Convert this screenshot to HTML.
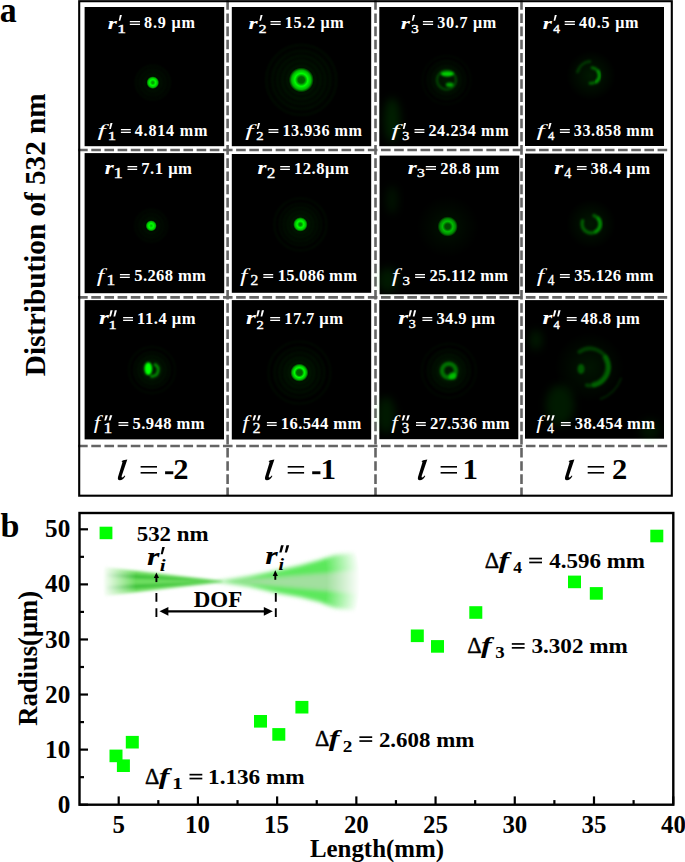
<!DOCTYPE html>
<html><head><meta charset="utf-8"><style>
html,body{margin:0;padding:0;background:#fff;width:685px;height:862px;overflow:hidden}
svg{display:block}
text{font-family:"Liberation Serif",serif}
</style></head><body>
<svg width="685" height="862" viewBox="0 0 685 862" font-family="Liberation Serif"><defs><filter id="sb" x="-50%" y="-50%" width="200%" height="200%"><feGaussianBlur stdDeviation="1.1"/></filter><radialGradient id="d1" cx="152.8" cy="82.6" r="6.37" gradientUnits="userSpaceOnUse"><stop offset="0" stop-color="#00ff00" stop-opacity="0.60"/><stop offset="0.141" stop-color="#00ff00" stop-opacity="0.60"/><stop offset="0.456" stop-color="#00ff00" stop-opacity="1.00"/><stop offset="0.77" stop-color="#00ff00" stop-opacity="0.70"/><stop offset="1" stop-color="#00ff00" stop-opacity="0"/></radialGradient><radialGradient id="h1" cx="152.8" cy="82.6" r="19.60" gradientUnits="userSpaceOnUse"><stop offset="0" stop-color="#00ff00" stop-opacity="0.060"/><stop offset="0.6" stop-color="#00ff00" stop-opacity="0.020"/><stop offset="1" stop-color="#00ff00" stop-opacity="0"/></radialGradient><radialGradient id="d3" cx="301.3" cy="79.9" r="12.48" gradientUnits="userSpaceOnUse"><stop offset="0" stop-color="#00ff00" stop-opacity="0.30"/><stop offset="0.257" stop-color="#00ff00" stop-opacity="0.35"/><stop offset="0.513" stop-color="#00ff00" stop-opacity="1.00"/><stop offset="0.77" stop-color="#00ff00" stop-opacity="0.70"/><stop offset="1" stop-color="#00ff00" stop-opacity="0"/></radialGradient><radialGradient id="h3" cx="301.3" cy="79.9" r="38.40" gradientUnits="userSpaceOnUse"><stop offset="0" stop-color="#00ff00" stop-opacity="0.075"/><stop offset="0.6" stop-color="#00ff00" stop-opacity="0.025"/><stop offset="1" stop-color="#00ff00" stop-opacity="0"/></radialGradient><radialGradient id="g5" cx="446.5" cy="80" r="22" gradientUnits="userSpaceOnUse"><stop offset="0" stop-color="#00ff00" stop-opacity="0.100"/><stop offset="1" stop-color="#00ff00" stop-opacity="0"/></radialGradient><radialGradient id="g6" cx="591" cy="75.5" r="25" gradientUnits="userSpaceOnUse"><stop offset="0" stop-color="#00ff00" stop-opacity="0.100"/><stop offset="1" stop-color="#00ff00" stop-opacity="0"/></radialGradient><radialGradient id="d7" cx="151.2" cy="225.8" r="5.59" gradientUnits="userSpaceOnUse"><stop offset="0" stop-color="#00ff00" stop-opacity="0.75"/><stop offset="0.072" stop-color="#00ff00" stop-opacity="0.75"/><stop offset="0.421" stop-color="#00ff00" stop-opacity="1.00"/><stop offset="0.77" stop-color="#00ff00" stop-opacity="0.70"/><stop offset="1" stop-color="#00ff00" stop-opacity="0"/></radialGradient><radialGradient id="h7" cx="151.2" cy="225.8" r="17.20" gradientUnits="userSpaceOnUse"><stop offset="0" stop-color="#00ff00" stop-opacity="0.060"/><stop offset="0.6" stop-color="#00ff00" stop-opacity="0.020"/><stop offset="1" stop-color="#00ff00" stop-opacity="0"/></radialGradient><radialGradient id="d9" cx="300.4" cy="224.4" r="7.28" gradientUnits="userSpaceOnUse"><stop offset="0" stop-color="#00ff00" stop-opacity="0.50"/><stop offset="0.151" stop-color="#00ff00" stop-opacity="0.50"/><stop offset="0.461" stop-color="#00ff00" stop-opacity="1.00"/><stop offset="0.77" stop-color="#00ff00" stop-opacity="0.70"/><stop offset="1" stop-color="#00ff00" stop-opacity="0"/></radialGradient><radialGradient id="h9" cx="300.4" cy="224.4" r="22.40" gradientUnits="userSpaceOnUse"><stop offset="0" stop-color="#00ff00" stop-opacity="0.090"/><stop offset="0.6" stop-color="#00ff00" stop-opacity="0.030"/><stop offset="1" stop-color="#00ff00" stop-opacity="0"/></radialGradient><radialGradient id="d11" cx="447.7" cy="226.5" r="10.14" gradientUnits="userSpaceOnUse"><stop offset="0" stop-color="#00ff00" stop-opacity="0.22"/><stop offset="0.257" stop-color="#00ff00" stop-opacity="0.25"/><stop offset="0.513" stop-color="#00ff00" stop-opacity="0.72"/><stop offset="0.77" stop-color="#00ff00" stop-opacity="0.50"/><stop offset="1" stop-color="#00ff00" stop-opacity="0"/></radialGradient><radialGradient id="h11" cx="447.7" cy="226.5" r="31.20" gradientUnits="userSpaceOnUse"><stop offset="0" stop-color="#00ff00" stop-opacity="0.075"/><stop offset="0.6" stop-color="#00ff00" stop-opacity="0.025"/><stop offset="1" stop-color="#00ff00" stop-opacity="0"/></radialGradient><radialGradient id="g13" cx="591" cy="224" r="25" gradientUnits="userSpaceOnUse"><stop offset="0" stop-color="#00ff00" stop-opacity="0.090"/><stop offset="1" stop-color="#00ff00" stop-opacity="0"/></radialGradient><radialGradient id="g14" cx="152" cy="370" r="20" gradientUnits="userSpaceOnUse"><stop offset="0" stop-color="#00ff00" stop-opacity="0.100"/><stop offset="1" stop-color="#00ff00" stop-opacity="0"/></radialGradient><radialGradient id="d15" cx="299.4" cy="372.6" r="9.10" gradientUnits="userSpaceOnUse"><stop offset="0" stop-color="#00ff00" stop-opacity="0.30"/><stop offset="0.308" stop-color="#00ff00" stop-opacity="0.35"/><stop offset="0.539" stop-color="#00ff00" stop-opacity="1.00"/><stop offset="0.77" stop-color="#00ff00" stop-opacity="0.70"/><stop offset="1" stop-color="#00ff00" stop-opacity="0"/></radialGradient><radialGradient id="h15" cx="299.4" cy="372.6" r="28.00" gradientUnits="userSpaceOnUse"><stop offset="0" stop-color="#00ff00" stop-opacity="0.090"/><stop offset="0.6" stop-color="#00ff00" stop-opacity="0.030"/><stop offset="1" stop-color="#00ff00" stop-opacity="0"/></radialGradient><radialGradient id="g17" cx="448.9" cy="370.7" r="24" gradientUnits="userSpaceOnUse"><stop offset="0" stop-color="#00ff00" stop-opacity="0.100"/><stop offset="1" stop-color="#00ff00" stop-opacity="0"/></radialGradient><radialGradient id="g18" cx="589.4" cy="367.2" r="35" gradientUnits="userSpaceOnUse"><stop offset="0" stop-color="#00ff00" stop-opacity="0.080"/><stop offset="1" stop-color="#00ff00" stop-opacity="0"/></radialGradient><filter id="bigb" x="-50%" y="-50%" width="200%" height="200%"><feGaussianBlur stdDeviation="4"/></filter><filter id="blur2" x="-20%" y="-50%" width="140%" height="200%"><feGaussianBlur stdDeviation="1.5"/></filter><filter id="blur3" x="-20%" y="-50%" width="140%" height="200%"><feGaussianBlur stdDeviation="2.2"/></filter><radialGradient id="lmg" cx="223" cy="581.4" r="121" gradientUnits="userSpaceOnUse"><stop offset="0" stop-color="#fff" stop-opacity="1"/><stop offset="0.72" stop-color="#fff" stop-opacity="1"/><stop offset="1" stop-color="#fff" stop-opacity="0"/></radialGradient><mask id="lmask" maskUnits="userSpaceOnUse" x="90" y="540" width="150" height="80"><rect x="90" y="540" width="150" height="80" fill="url(#lmg)"/></mask><radialGradient id="rmg" cx="222" cy="581.4" r="138" gradientUnits="userSpaceOnUse"><stop offset="0" stop-color="#fff" stop-opacity="1"/><stop offset="0.76" stop-color="#fff" stop-opacity="1"/><stop offset="1" stop-color="#fff" stop-opacity="0"/></radialGradient><mask id="rmask" maskUnits="userSpaceOnUse" x="210" y="530" width="170" height="100"><rect x="210" y="530" width="170" height="100" fill="url(#rmg)"/></mask></defs><rect x="84.6" y="7.0" width="139.6" height="139.2" fill="#000"/>
<rect x="231.8" y="7.0" width="139.4" height="139.2" fill="#000"/>
<rect x="379.3" y="7.0" width="139.0" height="139.2" fill="#000"/>
<rect x="525.0" y="7.0" width="139.0" height="139.0" fill="#000"/>
<rect x="84.6" y="153.1" width="139.6" height="140.1" fill="#000"/>
<rect x="231.8" y="154.0" width="139.4" height="138.8" fill="#000"/>
<rect x="379.6" y="155.6" width="139.7" height="138.7" fill="#000"/>
<rect x="525.0" y="153.6" width="139.0" height="139.2" fill="#000"/>
<rect x="84.6" y="300.1" width="139.4" height="139.3" fill="#000"/>
<rect x="231.8" y="300.1" width="139.4" height="139.4" fill="#000"/>
<rect x="379.3" y="300.1" width="139.0" height="139.1" fill="#000"/>
<rect x="525.0" y="300.1" width="139.0" height="138.6" fill="#000"/>
<line x1="78.1" y1="150.0" x2="667.2" y2="150.0" stroke="#646464" stroke-width="2.6" stroke-dasharray="9.6 3.57"/>
<line x1="78.1" y1="297.4" x2="667.2" y2="297.4" stroke="#646464" stroke-width="2.6" stroke-dasharray="9.6 3.57"/>
<line x1="78.1" y1="446.0" x2="667.2" y2="446.0" stroke="#646464" stroke-width="2.6" stroke-dasharray="9.6 3.57"/>
<line x1="227.6" y1="0.24" x2="227.6" y2="495" stroke="#646464" stroke-width="2.6" stroke-dasharray="9.6 3.57"/>
<line x1="375.5" y1="0.24" x2="375.5" y2="495" stroke="#646464" stroke-width="2.6" stroke-dasharray="9.6 3.57"/>
<line x1="521.5" y1="0.24" x2="521.5" y2="495" stroke="#646464" stroke-width="2.6" stroke-dasharray="9.6 3.57"/>
<rect x="79.2" y="1.2" width="592.6" height="494.5" fill="none" stroke="#000" stroke-width="2.1"/>
<circle cx="152.8" cy="82.6" r="19.60" fill="url(#h1)"/>
<circle cx="152.8" cy="82.6" r="6.37" fill="url(#d1)"/>
<circle cx="301.3" cy="79.9" r="38.40" fill="url(#h3)"/>
<circle cx="301.3" cy="79.9" r="12.48" fill="url(#d3)"/>
<circle cx="446.5" cy="80" r="22" fill="url(#g5)"/>
<ellipse cx="447.3" cy="73.8" rx="6.5" ry="2.6" fill="#00ff00" fill-opacity="0.8" filter="url(#sb)"/>
<ellipse cx="449.7" cy="84.7" rx="3.8" ry="2.2" fill="#00ff00" fill-opacity="0.6" filter="url(#sb)"/>
<circle cx="446.5" cy="80" r="9.5" fill="none" stroke="#00ff00" stroke-width="2.5" stroke-opacity="0.22" filter="url(#sb)"/>
<circle cx="591" cy="75.5" r="25" fill="url(#g6)"/>
<path d="M592.18,67.73 A7.8,7.8 0 1 1 590.15,83.18" fill="none" stroke="#00ff00" stroke-width="3.0" stroke-opacity="0.35" stroke-linecap="round" filter="url(#sb)"/>
<path d="M598.43,71.50 A8.0,8.0 0 0 1 596.64,81.63" fill="none" stroke="#00ff00" stroke-width="3.5" stroke-opacity="0.3" stroke-linecap="round" filter="url(#sb)"/>
<path d="M577.48,71.88 A14,14 0 0 1 589.78,61.55" fill="none" stroke="#00ff00" stroke-width="3" stroke-opacity="0.18" stroke-linecap="round" filter="url(#sb)"/>
<circle cx="151.2" cy="225.8" r="17.20" fill="url(#h7)"/>
<circle cx="151.2" cy="225.8" r="5.59" fill="url(#d7)"/>
<circle cx="300.4" cy="224.4" r="22.40" fill="url(#h9)"/>
<circle cx="300.4" cy="224.4" r="7.28" fill="url(#d9)"/>
<circle cx="447.7" cy="226.5" r="31.20" fill="url(#h11)"/>
<circle cx="447.7" cy="226.5" r="10.14" fill="url(#d11)"/>
<circle cx="591" cy="224" r="25" fill="url(#g13)"/>
<path d="M594.08,215.54 A9,9 0 1 1 582.54,220.92" fill="none" stroke="#00ff00" stroke-width="3.5" stroke-opacity="0.32" stroke-linecap="round" filter="url(#sb)"/>
<path d="M598.39,218.21 A9,9 0 0 1 596.00,231.79" fill="none" stroke="#00ff00" stroke-width="3.5" stroke-opacity="0.3" stroke-linecap="round" filter="url(#sb)"/>
<circle cx="152" cy="370" r="20" fill="url(#g14)"/>
<ellipse cx="148.3" cy="368.6" rx="3.9" ry="6.4" fill="#00ff00" fill-opacity="1.0" filter="url(#sb)"/>
<path d="M155.10,364.63 A6.2,6.2 0 0 1 151.46,376.18" fill="none" stroke="#00ff00" stroke-width="3" stroke-opacity="0.5" stroke-linecap="round" filter="url(#sb)"/>
<circle cx="299.4" cy="372.6" r="28.00" fill="url(#h15)"/>
<circle cx="299.4" cy="372.6" r="9.10" fill="url(#d15)"/>
<circle cx="448.9" cy="370.7" r="24" fill="url(#g17)"/>
<circle cx="448.9" cy="370.7" r="7" fill="none" stroke="#00ff00" stroke-width="4.5" stroke-opacity="0.4" filter="url(#sb)"/>
<ellipse cx="452.5" cy="376" rx="4" ry="3.5" fill="#00ff00" fill-opacity="0.55" filter="url(#sb)"/>
<circle cx="589.4" cy="367.2" r="35" fill="url(#g18)"/>
<path d="M579.39,351.85 A18.5,18.5 0 1 1 586.79,385.22" fill="none" stroke="#00ff00" stroke-width="4" stroke-opacity="0.2" stroke-linecap="round" filter="url(#sb)"/>
<path d="M605.59,358.00 A18,18 0 0 1 594.66,384.39" fill="none" stroke="#00ff00" stroke-width="6" stroke-opacity="0.2" stroke-linecap="round" filter="url(#sb)"/>
<ellipse cx="581" cy="369" rx="3.5" ry="5" fill="#00ff00" fill-opacity="0.3" filter="url(#sb)"/>
<path d="M620.95,378.63 A34,34 0 0 1 600.63,398.95" fill="none" stroke="#00ff00" stroke-width="2" stroke-opacity="0.12" stroke-linecap="round" filter="url(#sb)"/>
<circle cx="301.3" cy="79.9" r="14" fill="none" stroke="#00ff00" stroke-width="1.4" stroke-opacity="0.060" filter="url(#sb)"/>
<circle cx="301.3" cy="79.9" r="19" fill="none" stroke="#00ff00" stroke-width="1.4" stroke-opacity="0.060" filter="url(#sb)"/>
<circle cx="301.3" cy="79.9" r="24" fill="none" stroke="#00ff00" stroke-width="1.4" stroke-opacity="0.060" filter="url(#sb)"/>
<circle cx="301.3" cy="79.9" r="29" fill="none" stroke="#00ff00" stroke-width="1.4" stroke-opacity="0.060" filter="url(#sb)"/>
<circle cx="301.3" cy="79.9" r="35" fill="none" stroke="#00ff00" stroke-width="1.4" stroke-opacity="0.060" filter="url(#sb)"/>
<circle cx="300.4" cy="224.4" r="9" fill="none" stroke="#00ff00" stroke-width="1.4" stroke-opacity="0.060" filter="url(#sb)"/>
<circle cx="300.4" cy="224.4" r="13" fill="none" stroke="#00ff00" stroke-width="1.4" stroke-opacity="0.060" filter="url(#sb)"/>
<circle cx="300.4" cy="224.4" r="17" fill="none" stroke="#00ff00" stroke-width="1.4" stroke-opacity="0.060" filter="url(#sb)"/>
<circle cx="300.4" cy="224.4" r="21" fill="none" stroke="#00ff00" stroke-width="1.4" stroke-opacity="0.060" filter="url(#sb)"/>
<circle cx="300.4" cy="224.4" r="26" fill="none" stroke="#00ff00" stroke-width="1.4" stroke-opacity="0.060" filter="url(#sb)"/>
<circle cx="299.4" cy="372.6" r="11" fill="none" stroke="#00ff00" stroke-width="1.4" stroke-opacity="0.054" filter="url(#sb)"/>
<circle cx="299.4" cy="372.6" r="15" fill="none" stroke="#00ff00" stroke-width="1.4" stroke-opacity="0.054" filter="url(#sb)"/>
<circle cx="299.4" cy="372.6" r="20" fill="none" stroke="#00ff00" stroke-width="1.4" stroke-opacity="0.054" filter="url(#sb)"/>
<circle cx="299.4" cy="372.6" r="25" fill="none" stroke="#00ff00" stroke-width="1.4" stroke-opacity="0.054" filter="url(#sb)"/>
<circle cx="299.4" cy="372.6" r="31" fill="none" stroke="#00ff00" stroke-width="1.4" stroke-opacity="0.054" filter="url(#sb)"/>
<circle cx="152.8" cy="82.6" r="9" fill="none" stroke="#00ff00" stroke-width="1.4" stroke-opacity="0.048" filter="url(#sb)"/>
<circle cx="152.8" cy="82.6" r="13" fill="none" stroke="#00ff00" stroke-width="1.4" stroke-opacity="0.048" filter="url(#sb)"/>
<circle cx="152.8" cy="82.6" r="17" fill="none" stroke="#00ff00" stroke-width="1.4" stroke-opacity="0.048" filter="url(#sb)"/>
<circle cx="151.2" cy="225.8" r="8" fill="none" stroke="#00ff00" stroke-width="1.4" stroke-opacity="0.042" filter="url(#sb)"/>
<circle cx="151.2" cy="225.8" r="12" fill="none" stroke="#00ff00" stroke-width="1.4" stroke-opacity="0.042" filter="url(#sb)"/>
<circle cx="151.2" cy="225.8" r="16" fill="none" stroke="#00ff00" stroke-width="1.4" stroke-opacity="0.042" filter="url(#sb)"/>
<circle cx="152" cy="370" r="10" fill="none" stroke="#00ff00" stroke-width="1.4" stroke-opacity="0.048" filter="url(#sb)"/>
<circle cx="152" cy="370" r="14" fill="none" stroke="#00ff00" stroke-width="1.4" stroke-opacity="0.048" filter="url(#sb)"/>
<circle cx="152" cy="370" r="18" fill="none" stroke="#00ff00" stroke-width="1.4" stroke-opacity="0.048" filter="url(#sb)"/>
<circle cx="152" cy="370" r="23" fill="none" stroke="#00ff00" stroke-width="1.4" stroke-opacity="0.048" filter="url(#sb)"/>
<circle cx="446.5" cy="80" r="14" fill="none" stroke="#00ff00" stroke-width="1.4" stroke-opacity="0.036" filter="url(#sb)"/>
<circle cx="446.5" cy="80" r="19" fill="none" stroke="#00ff00" stroke-width="1.4" stroke-opacity="0.036" filter="url(#sb)"/>
<circle cx="446.5" cy="80" r="24" fill="none" stroke="#00ff00" stroke-width="1.4" stroke-opacity="0.036" filter="url(#sb)"/>
<circle cx="448.9" cy="370.7" r="12" fill="none" stroke="#00ff00" stroke-width="1.4" stroke-opacity="0.042" filter="url(#sb)"/>
<circle cx="448.9" cy="370.7" r="16" fill="none" stroke="#00ff00" stroke-width="1.4" stroke-opacity="0.042" filter="url(#sb)"/>
<circle cx="448.9" cy="370.7" r="21" fill="none" stroke="#00ff00" stroke-width="1.4" stroke-opacity="0.042" filter="url(#sb)"/>
<circle cx="448.9" cy="370.7" r="27" fill="none" stroke="#00ff00" stroke-width="1.4" stroke-opacity="0.042" filter="url(#sb)"/>
<ellipse cx="392" cy="120" rx="8" ry="22" fill="#00ff00" fill-opacity="0.12" filter="url(#bigb)"/>
<ellipse cx="388" cy="280" rx="10" ry="12" fill="#00ff00" fill-opacity="0.1" filter="url(#bigb)"/>
<ellipse cx="392" cy="200" rx="6" ry="14" fill="#00ff00" fill-opacity="0.07" filter="url(#bigb)"/>
<ellipse cx="386" cy="415" rx="9" ry="18" fill="#00ff00" fill-opacity="0.1" filter="url(#bigb)"/>
<ellipse cx="560" cy="405" rx="14" ry="20" fill="#00ff00" fill-opacity="0.1" filter="url(#bigb)"/>
<ellipse cx="650" cy="430" rx="10" ry="10" fill="#00ff00" fill-opacity="0.08" filter="url(#bigb)"/>
<ellipse cx="536" cy="340" rx="6" ry="10" fill="#00ff00" fill-opacity="0.1" filter="url(#bigb)"/>
<text transform="translate(107.73,28.60) scale(1.4140,1)" font-size="16.60" font-weight="bold" font-style="italic" fill="#fff">r</text>
<polygon points="119.92,14.900000000000002 121.90,14.900000000000002 120.30,20.8 118.70,20.8" fill="#fff"/>
<text transform="translate(117.22,32.70) scale(1.4591,1)" font-size="11.97" font-weight="normal" font-style="normal" fill="#fff" stroke="#fff" stroke-width="0.4">1</text>
<rect x="129.80" y="21.00" width="10.20" height="1.30" fill="#fff"/>
<rect x="129.80" y="23.70" width="10.20" height="1.30" fill="#fff"/>
<text x="144.10" y="28.44" font-size="16.15" font-weight="bold" font-style="normal" fill="#fff" letter-spacing="0.819">8.9 μm</text>
<text transform="translate(97.61,136.39) scale(1.8002,1)" font-size="16.30" font-weight="normal" font-style="italic" fill="#fff">f</text>
<polygon points="110.45,123.10000000000001 112.50,123.10000000000001 110.85,129.0 109.20,129.0" fill="#fff"/>
<text transform="translate(107.79,140.30) scale(1.3058,1)" font-size="12.73" font-weight="normal" font-style="normal" fill="#fff" stroke="#fff" stroke-width="0.4">1</text>
<rect x="120.90" y="129.00" width="9.90" height="1.30" fill="#fff"/>
<rect x="120.90" y="131.70" width="9.90" height="1.30" fill="#fff"/>
<text x="134.80" y="136.14" font-size="16.15" font-weight="bold" font-style="normal" fill="#fff" letter-spacing="0.755">4.814 mm</text>
<text transform="translate(248.43,28.60) scale(1.4140,1)" font-size="16.60" font-weight="bold" font-style="italic" fill="#fff">r</text>
<polygon points="260.62,14.900000000000002 262.60,14.900000000000002 261.00,20.8 259.40,20.8" fill="#fff"/>
<text transform="translate(258.70,32.70) scale(1.2949,1)" font-size="11.97" font-weight="normal" font-style="normal" fill="#fff" stroke="#fff" stroke-width="0.4">2</text>
<rect x="270.50" y="21.00" width="10.20" height="1.30" fill="#fff"/>
<rect x="270.50" y="23.70" width="10.20" height="1.30" fill="#fff"/>
<text x="284.80" y="28.44" font-size="16.15" font-weight="bold" font-style="normal" fill="#fff" letter-spacing="0.670">15.2 μm</text>
<text transform="translate(245.21,136.39) scale(1.8002,1)" font-size="16.30" font-weight="normal" font-style="italic" fill="#fff">f</text>
<polygon points="258.05,123.10000000000001 260.10,123.10000000000001 258.45,129.0 256.80,129.0" fill="#fff"/>
<text transform="translate(256.14,140.30) scale(1.1589,1)" font-size="12.73" font-weight="normal" font-style="normal" fill="#fff" stroke="#fff" stroke-width="0.4">2</text>
<rect x="268.50" y="129.00" width="9.90" height="1.30" fill="#fff"/>
<rect x="268.50" y="131.70" width="9.90" height="1.30" fill="#fff"/>
<text x="282.40" y="136.14" font-size="16.15" font-weight="bold" font-style="normal" fill="#fff" letter-spacing="0.539">13.936 mm</text>
<text transform="translate(400.83,28.60) scale(1.4140,1)" font-size="16.60" font-weight="bold" font-style="italic" fill="#fff">r</text>
<polygon points="413.02,14.900000000000002 415.00,14.900000000000002 413.40,20.8 411.80,20.8" fill="#fff"/>
<text transform="translate(411.13,32.58) scale(1.2670,1)" font-size="11.79" font-weight="normal" font-style="normal" fill="#fff" stroke="#fff" stroke-width="0.4">3</text>
<rect x="422.90" y="21.00" width="10.20" height="1.30" fill="#fff"/>
<rect x="422.90" y="23.70" width="10.20" height="1.30" fill="#fff"/>
<text x="437.20" y="28.44" font-size="16.15" font-weight="bold" font-style="normal" fill="#fff" letter-spacing="0.703">30.7 μm</text>
<text transform="translate(391.21,136.39) scale(1.8002,1)" font-size="16.30" font-weight="normal" font-style="italic" fill="#fff">f</text>
<polygon points="404.05,123.10000000000001 406.10,123.10000000000001 404.45,129.0 402.80,129.0" fill="#fff"/>
<text transform="translate(402.16,140.17) scale(1.1340,1)" font-size="12.54" font-weight="normal" font-style="normal" fill="#fff" stroke="#fff" stroke-width="0.4">3</text>
<rect x="414.50" y="129.00" width="9.90" height="1.30" fill="#fff"/>
<rect x="414.50" y="131.70" width="9.90" height="1.30" fill="#fff"/>
<text x="428.40" y="136.14" font-size="16.15" font-weight="bold" font-style="normal" fill="#fff" letter-spacing="0.614">24.234 mm</text>
<text transform="translate(542.63,28.60) scale(1.4140,1)" font-size="16.60" font-weight="bold" font-style="italic" fill="#fff">r</text>
<polygon points="554.82,14.900000000000002 556.80,14.900000000000002 555.20,20.8 553.60,20.8" fill="#fff"/>
<text transform="translate(553.33,32.70) scale(1.1139,1)" font-size="11.97" font-weight="normal" font-style="normal" fill="#fff" stroke="#fff" stroke-width="0.4">4</text>
<rect x="564.70" y="21.00" width="10.20" height="1.30" fill="#fff"/>
<rect x="564.70" y="23.70" width="10.20" height="1.30" fill="#fff"/>
<text x="579.00" y="28.44" font-size="16.15" font-weight="bold" font-style="normal" fill="#fff" letter-spacing="0.770">40.5 μm</text>
<text transform="translate(536.61,136.39) scale(1.8002,1)" font-size="16.30" font-weight="normal" font-style="italic" fill="#fff">f</text>
<polygon points="549.45,123.10000000000001 551.50,123.10000000000001 549.85,129.0 548.20,129.0" fill="#fff"/>
<text transform="translate(547.95,140.30) scale(0.9969,1)" font-size="12.73" font-weight="normal" font-style="normal" fill="#fff" stroke="#fff" stroke-width="0.4">4</text>
<rect x="559.90" y="129.00" width="9.90" height="1.30" fill="#fff"/>
<rect x="559.90" y="131.70" width="9.90" height="1.30" fill="#fff"/>
<text x="573.80" y="136.14" font-size="16.15" font-weight="bold" font-style="normal" fill="#fff" letter-spacing="0.564">33.858 mm</text>
<text transform="translate(104.84,174.30) scale(1.2116,1)" font-size="19.15" font-weight="bold" font-style="italic" fill="#fff">r</text>
<text transform="translate(113.52,177.70) scale(1.3634,1)" font-size="13.64" font-weight="normal" font-style="normal" fill="#fff" stroke="#fff" stroke-width="0.4">1</text>
<rect x="127.50" y="166.00" width="9.70" height="1.30" fill="#fff"/>
<rect x="127.50" y="168.70" width="9.70" height="1.30" fill="#fff"/>
<text x="141.20" y="174.13" font-size="16.59" font-weight="bold" font-style="normal" fill="#fff" letter-spacing="0.523">7.1 μm</text>
<text transform="translate(96.64,281.74) scale(1.4772,1)" font-size="17.93" font-weight="normal" font-style="italic" fill="#fff">f</text>
<text transform="translate(106.42,285.40) scale(1.2808,1)" font-size="13.64" font-weight="normal" font-style="normal" fill="#fff" stroke="#fff" stroke-width="0.4">1</text>
<rect x="119.90" y="274.00" width="9.90" height="1.30" fill="#fff"/>
<rect x="119.90" y="276.70" width="9.90" height="1.30" fill="#fff"/>
<text x="134.25" y="281.23" font-size="16.59" font-weight="bold" font-style="normal" fill="#fff" letter-spacing="0.370">5.268 mm</text>
<text transform="translate(257.54,174.30) scale(1.2116,1)" font-size="19.15" font-weight="bold" font-style="italic" fill="#fff">r</text>
<text transform="translate(267.06,177.70) scale(1.2100,1)" font-size="13.64" font-weight="normal" font-style="normal" fill="#fff" stroke="#fff" stroke-width="0.4">2</text>
<rect x="280.20" y="166.00" width="9.70" height="1.30" fill="#fff"/>
<rect x="280.20" y="168.70" width="9.70" height="1.30" fill="#fff"/>
<text x="293.90" y="174.13" font-size="16.59" font-weight="bold" font-style="normal" fill="#fff" letter-spacing="0.533">12.8μm</text>
<text transform="translate(240.04,281.74) scale(1.4772,1)" font-size="17.93" font-weight="normal" font-style="italic" fill="#fff">f</text>
<text transform="translate(250.60,285.40) scale(1.1367,1)" font-size="13.64" font-weight="normal" font-style="normal" fill="#fff" stroke="#fff" stroke-width="0.4">2</text>
<rect x="263.30" y="274.00" width="9.90" height="1.30" fill="#fff"/>
<rect x="263.30" y="276.70" width="9.90" height="1.30" fill="#fff"/>
<text x="277.65" y="281.23" font-size="16.59" font-weight="bold" font-style="normal" fill="#fff" letter-spacing="0.249">15.086 mm</text>
<text transform="translate(407.84,174.00) scale(1.2116,1)" font-size="19.15" font-weight="bold" font-style="italic" fill="#fff">r</text>
<text transform="translate(417.10,177.27) scale(1.1660,1)" font-size="13.43" font-weight="normal" font-style="normal" fill="#fff" stroke="#fff" stroke-width="0.4">3</text>
<rect x="425.80" y="166.00" width="10.20" height="1.30" fill="#fff"/>
<rect x="425.80" y="168.70" width="10.20" height="1.30" fill="#fff"/>
<text x="440.15" y="173.83" font-size="16.59" font-weight="bold" font-style="normal" fill="#fff" letter-spacing="0.478">28.8 μm</text>
<text transform="translate(391.84,281.74) scale(1.4772,1)" font-size="17.93" font-weight="normal" font-style="italic" fill="#fff">f</text>
<text transform="translate(402.43,285.27) scale(1.1122,1)" font-size="13.43" font-weight="normal" font-style="normal" fill="#fff" stroke="#fff" stroke-width="0.4">3</text>
<rect x="415.10" y="274.00" width="9.90" height="1.30" fill="#fff"/>
<rect x="415.10" y="276.70" width="9.90" height="1.30" fill="#fff"/>
<text x="429.45" y="281.23" font-size="16.59" font-weight="bold" font-style="normal" fill="#fff" letter-spacing="0.288">25.112 mm</text>
<text transform="translate(554.24,174.30) scale(1.2116,1)" font-size="19.15" font-weight="bold" font-style="italic" fill="#fff">r</text>
<text transform="translate(564.22,177.70) scale(1.0409,1)" font-size="13.64" font-weight="normal" font-style="normal" fill="#fff" stroke="#fff" stroke-width="0.4">4</text>
<rect x="576.90" y="166.00" width="9.70" height="1.30" fill="#fff"/>
<rect x="576.90" y="168.70" width="9.70" height="1.30" fill="#fff"/>
<text x="590.60" y="174.13" font-size="16.59" font-weight="bold" font-style="normal" fill="#fff" letter-spacing="0.520">38.4 μm</text>
<text transform="translate(536.64,281.74) scale(1.4772,1)" font-size="17.93" font-weight="normal" font-style="italic" fill="#fff">f</text>
<text transform="translate(547.63,285.40) scale(0.9778,1)" font-size="13.64" font-weight="normal" font-style="normal" fill="#fff" stroke="#fff" stroke-width="0.4">4</text>
<rect x="559.90" y="274.00" width="9.90" height="1.30" fill="#fff"/>
<rect x="559.90" y="276.70" width="9.90" height="1.30" fill="#fff"/>
<text x="574.25" y="281.23" font-size="16.59" font-weight="bold" font-style="normal" fill="#fff" letter-spacing="0.249">35.126 mm</text>
<text transform="translate(98.89,324.30) scale(1.3686,1)" font-size="18.51" font-weight="bold" font-style="italic" fill="#fff">r</text>
<polygon points="110.52,310.3 112.67,310.3 110.93,316.5 109.20,316.5" fill="#fff"/>
<polygon points="114.75,310.3 116.90,310.3 115.17,316.5 113.44,316.5" fill="#fff"/>
<text transform="translate(108.61,328.50) scale(1.3479,1)" font-size="12.12" font-weight="normal" font-style="normal" fill="#fff" stroke="#fff" stroke-width="0.4">1</text>
<rect x="123.10" y="317.00" width="9.90" height="1.30" fill="#fff"/>
<rect x="123.10" y="319.70" width="9.90" height="1.30" fill="#fff"/>
<text x="137.10" y="324.13" font-size="16.59" font-weight="bold" font-style="normal" fill="#fff" letter-spacing="0.505">11.4 μm</text>
<text transform="translate(93.76,428.97) scale(1.2944,1)" font-size="18.26" font-weight="normal" font-style="italic" fill="#fff">f</text>
<polygon points="105.59,415.3 107.84,415.3 106.02,420.5 104.20,420.5" fill="#fff"/>
<polygon points="110.04,415.3 112.30,415.3 110.48,420.5 108.66,420.5" fill="#fff"/>
<text transform="translate(103.52,433.20) scale(1.2133,1)" font-size="14.39" font-weight="normal" font-style="normal" fill="#fff" stroke="#fff" stroke-width="0.4">1</text>
<rect x="118.50" y="422.00" width="9.80" height="1.30" fill="#fff"/>
<rect x="118.50" y="424.70" width="9.80" height="1.30" fill="#fff"/>
<text x="132.45" y="428.83" font-size="16.59" font-weight="bold" font-style="normal" fill="#fff" letter-spacing="0.442">5.948 mm</text>
<text transform="translate(245.99,324.30) scale(1.3686,1)" font-size="18.51" font-weight="bold" font-style="italic" fill="#fff">r</text>
<polygon points="257.62,310.3 259.76,310.3 258.03,316.5 256.30,316.5" fill="#fff"/>
<polygon points="261.85,310.3 264.00,310.3 262.27,316.5 260.54,316.5" fill="#fff"/>
<text transform="translate(256.45,328.50) scale(1.1962,1)" font-size="12.12" font-weight="normal" font-style="normal" fill="#fff" stroke="#fff" stroke-width="0.4">2</text>
<rect x="270.20" y="317.00" width="9.90" height="1.30" fill="#fff"/>
<rect x="270.20" y="319.70" width="9.90" height="1.30" fill="#fff"/>
<text x="284.20" y="324.13" font-size="16.59" font-weight="bold" font-style="normal" fill="#fff" letter-spacing="0.403">17.7 μm</text>
<text transform="translate(242.16,428.97) scale(1.2944,1)" font-size="18.26" font-weight="normal" font-style="italic" fill="#fff">f</text>
<polygon points="253.99,415.3 256.25,415.3 254.42,420.5 252.60,420.5" fill="#fff"/>
<polygon points="258.44,415.3 260.70,415.3 258.88,420.5 257.06,420.5" fill="#fff"/>
<text transform="translate(252.70,433.20) scale(1.0768,1)" font-size="14.39" font-weight="normal" font-style="normal" fill="#fff" stroke="#fff" stroke-width="0.4">2</text>
<rect x="266.90" y="422.00" width="9.80" height="1.30" fill="#fff"/>
<rect x="266.90" y="424.70" width="9.80" height="1.30" fill="#fff"/>
<text x="280.85" y="428.83" font-size="16.59" font-weight="bold" font-style="normal" fill="#fff" letter-spacing="0.374">16.544 mm</text>
<text transform="translate(398.19,324.30) scale(1.3686,1)" font-size="18.51" font-weight="bold" font-style="italic" fill="#fff">r</text>
<polygon points="409.82,310.3 411.96,310.3 410.23,316.5 408.50,316.5" fill="#fff"/>
<polygon points="414.05,310.3 416.20,310.3 414.47,316.5 412.74,316.5" fill="#fff"/>
<text transform="translate(408.67,328.38) scale(1.1705,1)" font-size="11.94" font-weight="normal" font-style="normal" fill="#fff" stroke="#fff" stroke-width="0.4">3</text>
<rect x="422.40" y="317.00" width="9.90" height="1.30" fill="#fff"/>
<rect x="422.40" y="319.70" width="9.90" height="1.30" fill="#fff"/>
<text x="436.40" y="324.13" font-size="16.59" font-weight="bold" font-style="normal" fill="#fff" letter-spacing="0.403">34.9 μm</text>
<text transform="translate(391.26,428.97) scale(1.2944,1)" font-size="18.26" font-weight="normal" font-style="italic" fill="#fff">f</text>
<polygon points="403.09,415.3 405.35,415.3 403.52,420.5 401.70,420.5" fill="#fff"/>
<polygon points="407.54,415.3 409.80,415.3 407.98,420.5 406.15,420.5" fill="#fff"/>
<text transform="translate(401.83,433.06) scale(1.0536,1)" font-size="14.18" font-weight="normal" font-style="normal" fill="#fff" stroke="#fff" stroke-width="0.4">3</text>
<rect x="416.00" y="422.00" width="9.80" height="1.30" fill="#fff"/>
<rect x="416.00" y="424.70" width="9.80" height="1.30" fill="#fff"/>
<text x="429.95" y="428.83" font-size="16.59" font-weight="bold" font-style="normal" fill="#fff" letter-spacing="0.287">27.536 mm</text>
<text transform="translate(542.59,324.30) scale(1.3686,1)" font-size="18.51" font-weight="bold" font-style="italic" fill="#fff">r</text>
<polygon points="554.22,310.3 556.37,310.3 554.63,316.5 552.90,316.5" fill="#fff"/>
<polygon points="558.45,310.3 560.60,310.3 558.87,316.5 557.13,316.5" fill="#fff"/>
<text transform="translate(553.45,328.50) scale(1.0290,1)" font-size="12.12" font-weight="normal" font-style="normal" fill="#fff" stroke="#fff" stroke-width="0.4">4</text>
<rect x="566.80" y="317.00" width="9.90" height="1.30" fill="#fff"/>
<rect x="566.80" y="319.70" width="9.90" height="1.30" fill="#fff"/>
<text x="580.80" y="324.13" font-size="16.59" font-weight="bold" font-style="normal" fill="#fff" letter-spacing="0.436">48.8 μm</text>
<text transform="translate(536.16,428.97) scale(1.2944,1)" font-size="18.26" font-weight="normal" font-style="italic" fill="#fff">f</text>
<polygon points="547.99,415.3 550.25,415.3 548.42,420.5 546.60,420.5" fill="#fff"/>
<polygon points="552.44,415.3 554.70,415.3 552.88,420.5 551.05,420.5" fill="#fff"/>
<text transform="translate(547.13,433.20) scale(0.9263,1)" font-size="14.39" font-weight="normal" font-style="normal" fill="#fff" stroke="#fff" stroke-width="0.4">4</text>
<rect x="560.90" y="422.00" width="9.80" height="1.30" fill="#fff"/>
<rect x="560.90" y="424.70" width="9.80" height="1.30" fill="#fff"/>
<text x="574.85" y="428.83" font-size="16.59" font-weight="bold" font-style="normal" fill="#fff" letter-spacing="0.349">38.454 mm</text>
<path transform="translate(0.00,0)" d="M121.4 461.3 L123.3 460.3 L127.3 459.6 L121.7 476.0 Q121.3 477.7 122.4 477.5 Q123.4 477.2 124.7 475.5 L125.3 476.0 Q122.9 480.3 119.8 480.3 Q117.3 480.3 118.0 477.1 L122.4 462.6 Q122.6 461.4 121.4 461.3 Z" fill="#000"/>
<rect x="140.60" y="466.00" width="16.40" height="1.60" fill="#000"/>
<rect x="140.60" y="472.00" width="16.40" height="1.60" fill="#000"/>
<rect x="165.10" y="471.3" width="8.2" height="2.9" fill="#000"/>
<text transform="translate(173.28,479.40) scale(1.0476,1)" font-size="29.09" font-weight="bold" font-style="normal" fill="#000">2</text>
<path transform="translate(147.10,0)" d="M121.4 461.3 L123.3 460.3 L127.3 459.6 L121.7 476.0 Q121.3 477.7 122.4 477.5 Q123.4 477.2 124.7 475.5 L125.3 476.0 Q122.9 480.3 119.8 480.3 Q117.3 480.3 118.0 477.1 L122.4 462.6 Q122.6 461.4 121.4 461.3 Z" fill="#000"/>
<rect x="287.70" y="466.00" width="16.40" height="1.60" fill="#000"/>
<rect x="287.70" y="472.00" width="16.40" height="1.60" fill="#000"/>
<rect x="312.20" y="471.3" width="8.2" height="2.9" fill="#000"/>
<text transform="translate(320.41,479.40) scale(1.0684,1)" font-size="29.09" font-weight="bold" font-style="normal" fill="#000">1</text>
<path transform="translate(300.00,0)" d="M121.4 461.3 L123.3 460.3 L127.3 459.6 L121.7 476.0 Q121.3 477.7 122.4 477.5 Q123.4 477.2 124.7 475.5 L125.3 476.0 Q122.9 480.3 119.8 480.3 Q117.3 480.3 118.0 477.1 L122.4 462.6 Q122.6 461.4 121.4 461.3 Z" fill="#000"/>
<rect x="440.60" y="466.00" width="16.40" height="1.60" fill="#000"/>
<rect x="440.60" y="472.00" width="16.40" height="1.60" fill="#000"/>
<text transform="translate(462.41,479.40) scale(1.0684,1)" font-size="29.09" font-weight="bold" font-style="normal" fill="#000">1</text>
<path transform="translate(447.10,0)" d="M121.4 461.3 L123.3 460.3 L127.3 459.6 L121.7 476.0 Q121.3 477.7 122.4 477.5 Q123.4 477.2 124.7 475.5 L125.3 476.0 Q122.9 480.3 119.8 480.3 Q117.3 480.3 118.0 477.1 L122.4 462.6 Q122.6 461.4 121.4 461.3 Z" fill="#000"/>
<rect x="587.70" y="466.00" width="16.40" height="1.60" fill="#000"/>
<rect x="587.70" y="472.00" width="16.40" height="1.60" fill="#000"/>
<text transform="translate(612.08,479.40) scale(1.0476,1)" font-size="29.09" font-weight="bold" font-style="normal" fill="#000">2</text>
<text transform="translate(-0.32,22.15) scale(0.9557,1)" font-size="35.42" font-weight="bold" font-style="normal" fill="#000">a</text>
<text transform="translate(44.90,376.14) rotate(-90) scale(0.9650,1)" font-size="30.23" font-weight="bold" font-style="normal" fill="#000">Distribution of 532 nm</text>
<text transform="translate(0.56,536.76) scale(1.0005,1)" font-size="34.04" font-weight="bold" font-style="normal" fill="#000">b</text>
<rect x="79.5" y="513.0" width="593.8" height="291.7" fill="none" stroke="#000" stroke-width="2.4"/>
<line x1="118.70" y1="804.7" x2="118.70" y2="796.4000000000001" stroke="#000" stroke-width="2.2"/>
<text transform="translate(112.41,833.35) scale(0.9975,1)" font-size="24.96" font-weight="bold" font-style="normal" fill="#000">5</text>
<line x1="197.92" y1="804.7" x2="197.92" y2="796.4000000000001" stroke="#000" stroke-width="2.2"/>
<text transform="translate(184.97,833.35) scale(1.0125,1)" font-size="24.59" font-weight="bold" font-style="normal" fill="#000">10</text>
<line x1="277.13" y1="804.7" x2="277.13" y2="796.4000000000001" stroke="#000" stroke-width="2.2"/>
<text transform="translate(264.12,833.35) scale(1.0050,1)" font-size="24.78" font-weight="bold" font-style="normal" fill="#000">15</text>
<line x1="356.35" y1="804.7" x2="356.35" y2="796.4000000000001" stroke="#000" stroke-width="2.2"/>
<text transform="translate(343.90,833.35) scale(1.0125,1)" font-size="24.59" font-weight="bold" font-style="normal" fill="#000">20</text>
<line x1="435.56" y1="804.7" x2="435.56" y2="796.4000000000001" stroke="#000" stroke-width="2.2"/>
<text transform="translate(423.05,833.35) scale(1.0050,1)" font-size="24.78" font-weight="bold" font-style="normal" fill="#000">25</text>
<line x1="514.77" y1="804.7" x2="514.77" y2="796.4000000000001" stroke="#000" stroke-width="2.2"/>
<text transform="translate(502.39,833.35) scale(1.0125,1)" font-size="24.59" font-weight="bold" font-style="normal" fill="#000">30</text>
<line x1="593.99" y1="804.7" x2="593.99" y2="796.4000000000001" stroke="#000" stroke-width="2.2"/>
<text transform="translate(581.54,833.35) scale(1.0050,1)" font-size="24.78" font-weight="bold" font-style="normal" fill="#000">35</text>
<line x1="673.21" y1="804.7" x2="673.21" y2="796.4000000000001" stroke="#000" stroke-width="2.2"/>
<text transform="translate(661.07,833.35) scale(1.0125,1)" font-size="24.59" font-weight="bold" font-style="normal" fill="#000">40</text>
<line x1="158.31" y1="804.7" x2="158.31" y2="800.1" stroke="#000" stroke-width="2.2"/>
<line x1="237.52" y1="804.7" x2="237.52" y2="800.1" stroke="#000" stroke-width="2.2"/>
<line x1="316.74" y1="804.7" x2="316.74" y2="800.1" stroke="#000" stroke-width="2.2"/>
<line x1="395.95" y1="804.7" x2="395.95" y2="800.1" stroke="#000" stroke-width="2.2"/>
<line x1="475.17" y1="804.7" x2="475.17" y2="800.1" stroke="#000" stroke-width="2.2"/>
<line x1="554.38" y1="804.7" x2="554.38" y2="800.1" stroke="#000" stroke-width="2.2"/>
<line x1="633.60" y1="804.7" x2="633.60" y2="800.1" stroke="#000" stroke-width="2.2"/>
<line x1="79.5" y1="804.70" x2="88" y2="804.70" stroke="#000" stroke-width="2.2"/>
<text transform="translate(57.71,812.75) scale(1.0006,1)" font-size="25.19" font-weight="bold" font-style="normal" fill="#000">0</text>
<line x1="79.5" y1="749.62" x2="88" y2="749.62" stroke="#000" stroke-width="2.2"/>
<text transform="translate(45.11,757.67) scale(1.0006,1)" font-size="25.19" font-weight="bold" font-style="normal" fill="#000">10</text>
<line x1="79.5" y1="694.54" x2="88" y2="694.54" stroke="#000" stroke-width="2.2"/>
<text transform="translate(45.11,702.59) scale(1.0006,1)" font-size="25.19" font-weight="bold" font-style="normal" fill="#000">20</text>
<line x1="79.5" y1="639.46" x2="88" y2="639.46" stroke="#000" stroke-width="2.2"/>
<text transform="translate(45.11,647.51) scale(1.0006,1)" font-size="25.19" font-weight="bold" font-style="normal" fill="#000">30</text>
<line x1="79.5" y1="584.38" x2="88" y2="584.38" stroke="#000" stroke-width="2.2"/>
<text transform="translate(45.11,592.43) scale(1.0006,1)" font-size="25.19" font-weight="bold" font-style="normal" fill="#000">40</text>
<line x1="79.5" y1="529.30" x2="88" y2="529.30" stroke="#000" stroke-width="2.2"/>
<text transform="translate(45.11,537.35) scale(1.0006,1)" font-size="25.19" font-weight="bold" font-style="normal" fill="#000">50</text>
<line x1="79.5" y1="777.16" x2="84" y2="777.16" stroke="#000" stroke-width="2.2"/>
<line x1="79.5" y1="722.08" x2="84" y2="722.08" stroke="#000" stroke-width="2.2"/>
<line x1="79.5" y1="667.00" x2="84" y2="667.00" stroke="#000" stroke-width="2.2"/>
<line x1="79.5" y1="611.92" x2="84" y2="611.92" stroke="#000" stroke-width="2.2"/>
<line x1="79.5" y1="556.84" x2="84" y2="556.84" stroke="#000" stroke-width="2.2"/>
<text transform="translate(309.93,856.50) scale(1.0066,1)" font-size="24.73" font-weight="bold" font-style="normal" fill="#000">Length(mm)</text>
<text transform="translate(36.60,725.70) rotate(-90) scale(0.9628,1)" font-size="27.63" font-weight="bold" font-style="normal" fill="#000">Radius(μm)</text>
<rect x="109.5" y="749.6" width="13" height="12.6" fill="#00ff00"/>
<rect x="116.9" y="759.4" width="13" height="12.6" fill="#00ff00"/>
<rect x="125.8" y="735.9" width="13" height="12.6" fill="#00ff00"/>
<rect x="254.0" y="715.0" width="13" height="12.6" fill="#00ff00"/>
<rect x="272.3" y="728.1" width="13" height="12.6" fill="#00ff00"/>
<rect x="295.4" y="700.9" width="13" height="12.6" fill="#00ff00"/>
<rect x="410.8" y="629.5" width="13" height="12.6" fill="#00ff00"/>
<rect x="431.0" y="640.1" width="13" height="12.6" fill="#00ff00"/>
<rect x="469.3" y="606.2" width="13" height="12.6" fill="#00ff00"/>
<rect x="568.0" y="575.6" width="13" height="12.6" fill="#00ff00"/>
<rect x="589.8" y="587.1" width="13" height="12.6" fill="#00ff00"/>
<rect x="650.3" y="529.7" width="13" height="12.6" fill="#00ff00"/>
<rect x="99.6" y="526.7" width="12.8" height="12.5" fill="#00ff00"/>
<text transform="translate(136.68,541.08) scale(1.0441,1)" font-size="21.95" font-weight="bold" font-style="normal" fill="#000">532 nm</text>
<text transform="translate(145.01,783.70) scale(0.9945,1)" font-size="22.42" font-weight="normal" font-style="normal" fill="#000" stroke="#000" stroke-width="0.45">Δ</text>
<text transform="translate(158.80,783.72) scale(1.4107,1)" font-size="22.72" font-weight="bold" font-style="italic" fill="#000">f</text>
<text transform="translate(171.95,789.00) scale(1.3503,1)" font-size="16.21" font-weight="bold" font-style="normal" fill="#000">1</text>
<rect x="189.50" y="773.80" width="12.80" height="1.70" fill="#000"/>
<rect x="189.50" y="777.70" width="12.80" height="1.70" fill="#000"/>
<text transform="translate(208.05,784.00) scale(1.0694,1)" font-size="21.67" font-weight="bold" font-style="normal" fill="#000">1.136 mm</text>
<text transform="translate(314.91,746.20) scale(0.9945,1)" font-size="22.42" font-weight="normal" font-style="normal" fill="#000" stroke="#000" stroke-width="0.45">Δ</text>
<text transform="translate(328.70,746.22) scale(1.4107,1)" font-size="22.72" font-weight="bold" font-style="italic" fill="#000">f</text>
<text transform="translate(342.83,751.50) scale(1.1896,1)" font-size="16.21" font-weight="bold" font-style="normal" fill="#000">2</text>
<rect x="359.40" y="736.30" width="12.80" height="1.70" fill="#000"/>
<rect x="359.40" y="740.20" width="12.80" height="1.70" fill="#000"/>
<text transform="translate(378.88,746.50) scale(1.0578,1)" font-size="21.67" font-weight="bold" font-style="normal" fill="#000">2.608 mm</text>
<text transform="translate(467.31,653.00) scale(0.9945,1)" font-size="22.42" font-weight="normal" font-style="normal" fill="#000" stroke="#000" stroke-width="0.45">Δ</text>
<text transform="translate(481.10,653.02) scale(1.4107,1)" font-size="22.72" font-weight="bold" font-style="italic" fill="#000">f</text>
<text transform="translate(495.34,658.14) scale(1.1795,1)" font-size="15.97" font-weight="bold" font-style="normal" fill="#000">3</text>
<rect x="511.80" y="643.10" width="12.80" height="1.70" fill="#000"/>
<rect x="511.80" y="647.00" width="12.80" height="1.70" fill="#000"/>
<text transform="translate(531.39,653.30) scale(1.0689,1)" font-size="21.67" font-weight="bold" font-style="normal" fill="#000">3.302 mm</text>
<text transform="translate(484.71,567.60) scale(0.9945,1)" font-size="22.42" font-weight="normal" font-style="normal" fill="#000" stroke="#000" stroke-width="0.45">Δ</text>
<text transform="translate(498.50,567.62) scale(1.4107,1)" font-size="22.72" font-weight="bold" font-style="italic" fill="#000">f</text>
<text transform="translate(513.14,572.90) scale(1.0745,1)" font-size="16.21" font-weight="bold" font-style="normal" fill="#000">4</text>
<rect x="529.20" y="557.70" width="12.80" height="1.70" fill="#000"/>
<rect x="529.20" y="561.60" width="12.80" height="1.70" fill="#000"/>
<text transform="translate(549.26,567.90) scale(1.0604,1)" font-size="21.67" font-weight="bold" font-style="normal" fill="#000">4.596 mm</text>
<g mask="url(#lmask)"><g filter="url(#blur2)"><polygon points="103,567 223,580.9 223,581.9 103,596" fill="#6ede60"/><polygon points="106,572.5 106,577.5 222,581.3 222,581.1" fill="#34be34" fill-opacity="0.9"/><polygon points="106,585.5 106,590.5 222,581.9 222,581.7" fill="#34be34" fill-opacity="0.9"/></g></g>
<g mask="url(#rmask)"><g filter="url(#blur3)"><polygon points="219,581.2 250,576.3 280,570 300,565.5 320,560 335,555 352,553 365,553 365,610 352,610 335,608 320,602 300,597 280,593.6 250,586.6 219,581.7" fill="#5ce85c"/><polygon points="224,581.3 280,577 352,571 365,571 365,593 352,593 280,586.5 224,581.6" fill="#b4dcb0" fill-opacity="0.8"/></g></g>
<polygon points="156.4,572.4 159.0,578.1 153.8,578.1" fill="#000"/>
<line x1="156.4" y1="577.4" x2="156.4" y2="582.1" stroke="#000" stroke-width="1.9"/>
<polygon points="275.3,570.3 277.90000000000003,576.0 272.7,576.0" fill="#000"/>
<line x1="275.3" y1="575.3" x2="275.3" y2="579.8" stroke="#000" stroke-width="1.9"/>
<line x1="156.4" y1="593" x2="156.4" y2="617" stroke="#000" stroke-width="1.9" stroke-dasharray="8.8 6.4"/>
<line x1="275.8" y1="593" x2="275.8" y2="617" stroke="#000" stroke-width="1.9" stroke-dasharray="8.8 6.4"/>
<line x1="166" y1="611.3" x2="266" y2="611.3" stroke="#000" stroke-width="2.2"/>
<polygon points="159.5,611.3 168.4,606.9 168.4,615.7" fill="#000"/>
<polygon points="272.8,611.3 263.8,606.9 263.8,615.7" fill="#000"/>
<text transform="translate(193.76,607.20) scale(0.9901,1)" font-size="23.21" font-weight="bold" font-style="normal" fill="#000">DOF</text>
<text transform="translate(146.96,565.40) scale(1.2328,1)" font-size="25.96" font-weight="bold" font-style="italic" fill="#000">r</text>
<polygon points="162.26,547.0 164.80,547.0 162.75,554.3 160.70,554.3" fill="#000"/>
<text transform="translate(159.87,571.00) scale(1.2593,1)" font-size="16.83" font-weight="bold" font-style="italic" fill="#000">i</text>
<text transform="translate(265.16,563.60) scale(1.2966,1)" font-size="24.68" font-weight="bold" font-style="italic" fill="#000">r</text>
<polygon points="280.99,545.3 283.75,545.3 281.53,552.6 279.30,552.6" fill="#000"/>
<polygon points="286.44,545.3 289.20,545.3 286.97,552.6 284.75,552.6" fill="#000"/>
<text transform="translate(278.50,569.50) scale(1.1880,1)" font-size="16.83" font-weight="bold" font-style="italic" fill="#000">i</text></svg>
</body></html>
